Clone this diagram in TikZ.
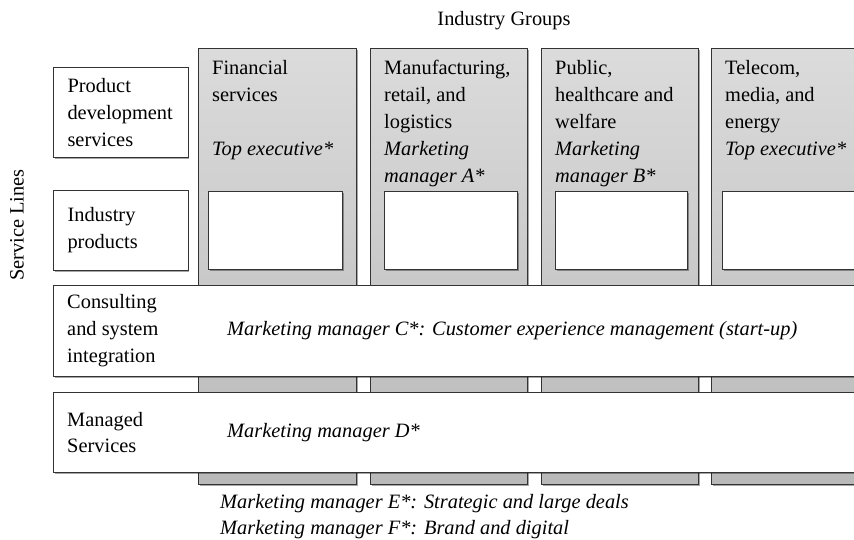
\documentclass[tikz,border=0pt]{standalone}
\usepackage{fontspec}
\setmainfont{Liberation Serif}
\usetikzlibrary{positioning,shadows}

\tikzset{
  txt/.style={font=\fontsize{17.4}{23}\selectfont, align=left, inner sep=0pt},
  boxline/.style={draw=black!80, line width=0.9pt},
  shadowed/.style={drop shadow={shadow xshift=0.9pt, shadow yshift=-0.9pt, opacity=0.35, fill=black}},
  sidebox/.style={boxline, shadowed, fill=white, txt, text width=3.2cm, inner xsep=0.42cm,
                  minimum width=3.99cm, anchor=north west},
  colbox/.style={boxline, shadowed, top color=gray!28, bottom color=gray!55, inner sep=0pt,
                 minimum height=13.08cm, anchor=north west},
  slotbox/.style={boxline, shadowed, fill=white, inner sep=0pt, minimum height=2.34cm, anchor=north west},
  band/.style={boxline, shadowed, fill=white, inner sep=0pt, minimum width=24.51cm, anchor=north west}
}

\begin{document}
\begin{tikzpicture}[x=0.03cm, y=-0.03cm]
  \useasboundingbox (0,0) rectangle (854,540);
  % Axis titles
  \node[txt] (groups) at (504,21) {Industry Groups};
  \node[txt, rotate=90] (lines) at (17,225) {Service Lines};
  % Industry group columns
  \node[colbox, minimum width=4.74cm] (col1) at (198,48) {};
  \node[colbox, minimum width=4.71cm] (col2) at (370,48) {};
  \node[colbox, minimum width=4.71cm] (col3) at (541,48) {};
  \node[colbox, minimum width=4.8cm]  (col4) at (711,48) {};
  % Column headings
  \node[txt, anchor=north west] (hd1) at ([xshift=0.42cm, yshift=-0.36cm]col1.north west)
    {Financial\\services\\[23pt]\textit{Top executive*}};
  \node[txt, anchor=north west] (hd2) at ([xshift=0.42cm, yshift=-0.36cm]col2.north west)
    {Manufacturing,\\retail, and\\logistics\\\textit{Marketing}\\\textit{manager A*}};
  \node[txt, anchor=north west] (hd3) at ([xshift=0.42cm, yshift=-0.36cm]col3.north west)
    {Public,\\healthcare and\\welfare\\\textit{Marketing}\\\textit{manager B*}};
  \node[txt, anchor=north west] (hd4) at ([xshift=0.42cm, yshift=-0.36cm]col4.north west)
    {Telecom,\\media, and\\energy\\\textit{Top executive*}};
  % Industry product slots
  \node[slotbox, minimum width=4.02cm] (slot1) at (208,191) {};
  \node[slotbox, minimum width=3.99cm] (slot2) at (384,191) {};
  \node[slotbox, minimum width=3.96cm] (slot3) at (555,191) {};
  \node[slotbox, minimum width=4.5cm]  (slot4) at (722,191) {};
  % Service lines
  \node[sidebox, minimum height=2.7cm] (pds) at (53,67) {Product\\development\\services};
  \node[sidebox, minimum height=2.4cm] (indprod) at (53,190) {Industry\\products};
  \node[band, minimum height=2.73cm] (consult) at (53,285) {};
  \node[band, minimum height=2.4cm] (managed) at (53,392) {};
  \node[txt, anchor=west] (consultlbl) at ([xshift=0.42cm]consult.west)
    {Consulting\\and system\\integration};
  \node[txt, anchor=west] (managedlbl) at ([xshift=0.42cm]managed.west) {Managed\\Services};
  \node[txt, anchor=west] (mgrC) at ([xshift=5.22cm]consult.west)
    {\textit{Marketing manager C*: Customer experience management (start-up)}};
  \node[txt, anchor=west] (mgrD) at ([xshift=5.22cm]managed.west) {\textit{Marketing manager D*}};
  % Cross-cutting roles
  \node[txt, anchor=west] (mgrE) at (220,504) {\textit{Marketing manager E*: Strategic and large deals}};
  \node[txt, anchor=west] (mgrF) at (220,530) {\textit{Marketing manager F*: Brand and digital}};
\end{tikzpicture}
\end{document}
